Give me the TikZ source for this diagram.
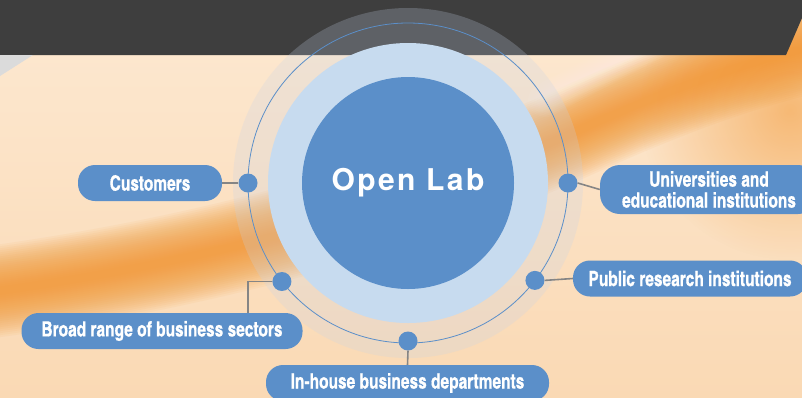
\documentclass[tikz,border=0pt]{standalone}
\usepackage{fontspec}
\newfontfamily\labelfont{texgyreheroscn-bold.otf}[FakeStretch=0.9, FakeBold=0.6]
\newfontfamily\hubfont{texgyreheros-bold.otf}[LetterSpace=8]
\usetikzlibrary{positioning, fadings}

\definecolor{labblue}{HTML}{5B8FC9}
\definecolor{ringblue}{HTML}{C7DBEF}
\definecolor{haloblue}{RGB}{198,211,232}
\definecolor{peachlight}{HTML}{FDE9D2}
\definecolor{peachdark}{HTML}{FAD9B4}
\definecolor{streak}{HTML}{F2952F}
\definecolor{band}{HTML}{3E3E3E}
\definecolor{linkgray}{HTML}{858585}

\tikzfading[name=glow, inner color=transparent!0, outer color=transparent!100]

\begin{document}
\begin{tikzpicture}[
                x=1pt, y=-1pt,
                pill/.style={rectangle, rounded corners=17pt, fill=labblue, text=white,
                    minimum height=36pt, inner sep=0pt, align=center,
                    font=\labelfont\fontsize{21}{21}\selectfont},
                dot/.style={circle, fill=labblue, minimum size=19pt, inner sep=0pt},
                hub/.style={circle, fill=labblue, minimum size=212pt, inner sep=0pt,
                    text=white, font=\hubfont\fontsize{30}{36}\selectfont},
                link/.style={draw=linkgray, line width=1.6pt},
            ]
            \useasboundingbox (0,0) rectangle (802,397);
            \clip (0,0) rectangle (802,397);

            % Backdrop
            \shade[top color=peachlight, bottom color=peachdark] (0,0) rectangle (802,397);
            \fill[streak, opacity=0.55, path fading=glow] (790,110) circle (150pt);
            \foreach \i in {0,...,21}
                \draw[streak, line width=92pt-4pt*\i, opacity=0.065, line cap=round]
                    (-40,296) .. controls (250,260) and (460,185) .. (590,125)
                    .. controls (680,85) and (750,60) .. (840,40);
            \foreach \i in {0,...,9}
                \draw[white, line width=34pt-3.2pt*\i, opacity=0.04, line cap=round]
                    (545,100) -- (655,42);
            \fill[band] (0,0) -- (802,0) -- (802,18) -- (786,55) -- (0,55) -- cycle;
            \fill[gray!28] (0,55) -- (33,55) -- (0,76) -- cycle;

            % Centre rings
            \coordinate (c) at (408,183);
            \fill[haloblue, opacity=0.24] (c) circle (175pt);
            \fill[ringblue] (c) circle (140pt);
            \draw[labblue, line width=0.8pt] (c) circle (160pt);
            \node[hub] (lab) at (c) {Open Lab};

            % Dots on the orbit
            \node[dot] (d-cust)  at ([shift={(180:160)}]c) {};
            \node[dot] (d-univ)  at ([shift={(0:160)}]c) {};
            \node[dot] (d-pub)   at ([shift={(37.5:160)}]c) {};
            \node[dot] (d-broad) at ([shift={(142:160)}]c) {};
            \node[dot] (d-house) at ([shift={(90:158)}]c) {};

            % Labels
            \node[pill, minimum width=144pt] (cust) at (150,183) {Customers};
            \node[pill, minimum width=218pt, minimum height=49pt, rounded corners=20pt]
                (univ) at (709,189.5) {Universities and\\educational institutions};
            \node[pill, minimum width=234pt] (pub) at (690,278.5) {Public research institutions};
            \node[pill, minimum width=281pt] (broad) at (162,331) {Broad range of business sectors};
            \node[pill, minimum width=283pt] (house) at (407.5,383) {In-house business departments};

            % Links
            \draw[link] (cust.east) -- (d-cust.west);
            \draw[link] (d-univ.east) -- (univ.west);
            \draw[link] (d-pub.east) -- (pub.west);
            \draw[link] (d-broad.west) -| ([xshift=86pt]broad.north);
            \draw[link] (d-house.south) -- (house.north);
            \end{tikzpicture}
\end{document}
